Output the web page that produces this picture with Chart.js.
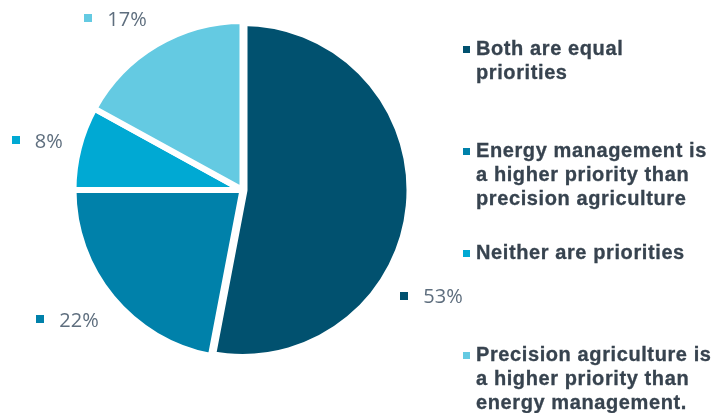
<!DOCTYPE html>
<html>
<head>
<meta charset="utf-8">
<script src="https://cdn.jsdelivr.net/npm/chart.js@4.4.1/dist/chart.umd.min.js"></script>
<style>
    body { margin: 0; background: #fff; }
    #wrap { position: relative; width: 712px; height: 413px; overflow: hidden; }
    #pie { position: absolute; left: 0; top: 0; }
    #legend { position: absolute; left: 463px; top: 36px; }
    .item { display: flex; height: 102px; }
    .box { width: 7px; height: 7px; margin-top: 10px; margin-right: 6px; flex: none; }
    .txt {
        width: 240px;
        font: bold 20px "Liberation Sans", Arial, sans-serif;
        letter-spacing: 0.6px;
        line-height: 24px;
        color: #37434f;
        -webkit-text-stroke: 0.3px #37434f;
    }
</style>
</head>
<body>
<div id="wrap">
    <canvas id="pie" width="712" height="413"></canvas>
    <div id="legend"></div>
</div>
<script>
// chart data
var categories = [
    "Both are equal priorities",
    "Energy management is a higher priority than precision agriculture",
    "Neither are priorities",
    "Precision agriculture is a higher priority than energy management."
];
var shares = [53, 22, 8, 17];
var sliceColors = ["#01516f", "#0081aa", "#00a9d3", "#64cae2"];

// where the value labels sit: angle shift from the slice middle (deg) and distance from centre
var labelShift = [24, 3, -1, -6];
var labelDist = [217, 218, 211, 213];

var valueLabels = {
    id: 'valueLabels',
    afterDatasetsDraw: function (chart) {
        var ctx = chart.ctx;
        var arcs = chart.getDatasetMeta(0).data;
        ctx.save();
        ctx.font = '20px "Open Sans", sans-serif';
        ctx.textBaseline = 'middle';
        ctx.textAlign = 'left';
        arcs.forEach(function (arc, i) {
            var mid = (arc.startAngle + arc.endAngle) / 2 + labelShift[i] * Math.PI / 180;
            var cx = arc.x + Math.cos(mid) * labelDist[i];
            var cy = arc.y + Math.sin(mid) * labelDist[i];
            var text = shares[i] + '%';
            var tw = ctx.measureText(text).width;
            var total = 8 + 15 + tw;
            var x0 = cx - total / 2;
            ctx.fillStyle = sliceColors[i];
            ctx.fillRect(Math.round(x0), Math.round(cy - 5), 8, 8);
            ctx.fillStyle = '#5e6e7e';
            ctx.fillText(text, x0 + 23, cy + 1);
        });
        ctx.restore();
    }
};

var ctx = document.getElementById('pie');
var pieChart = new Chart(ctx, {
    type: 'pie',
    data: {
        labels: categories,
        datasets: [
            {
                data: shares,
                backgroundColor: sliceColors,
                borderColor: "#ffffff",
                borderWidth: [10, 6, 6, 6]
            }
        ]
    },
    options: {
        responsive: false,
        animation: false,
        devicePixelRatio: 1,
        radius: 169,
        layout: {
            padding: { left: 0, right: 227, top: 0, bottom: 33 }
        },
        plugins: {
            legend: { display: false },
            tooltip: { enabled: false }
        }
    },
    plugins: [valueLabels]
});

// html legend built from the same arrays
var legend = document.getElementById('legend');
categories.forEach(function (name, i) {
    var item = document.createElement('div');
    item.className = 'item';
    item.innerHTML = '<div class="box" style="background:' + sliceColors[i] + '"></div><div class="txt"></div>';
    item.querySelector('.txt').textContent = name;
    legend.appendChild(item);
});
</script>
</body>
</html>
